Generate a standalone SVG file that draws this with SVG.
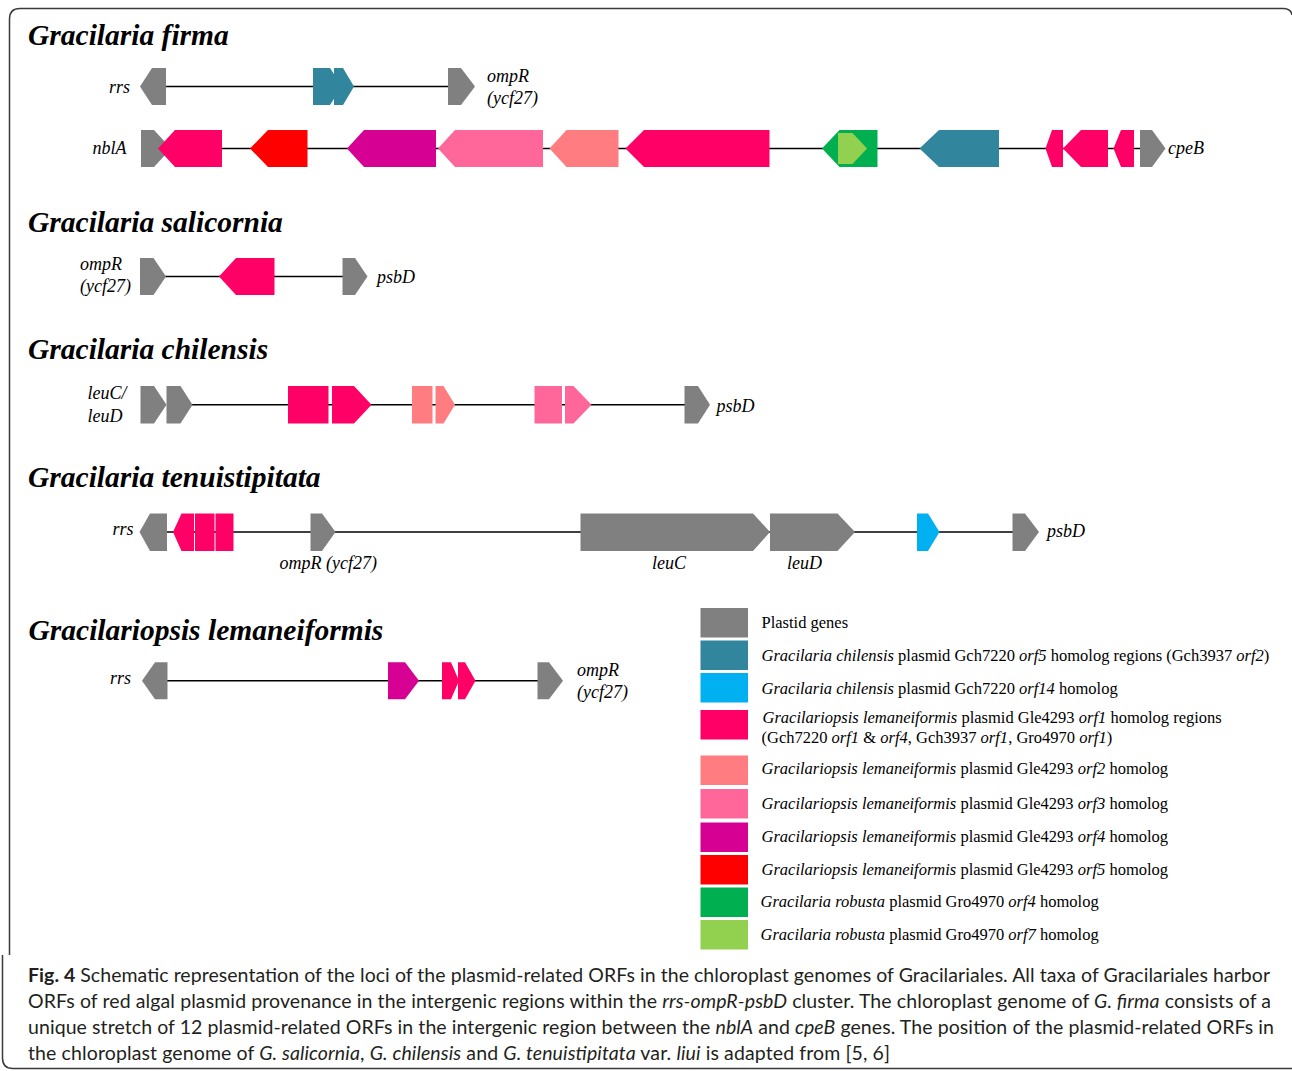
<svg xmlns="http://www.w3.org/2000/svg" width="1292" height="1071" viewBox="0 0 1292 1071">
<style>
.t{font-family:"Liberation Serif","Times New Roman",serif;font-weight:bold;font-style:italic;font-size:29.5px;fill:#000}
.g{font-family:"Liberation Serif","Times New Roman",serif;font-style:italic;font-size:18px;fill:#000}
.l{font-family:"Liberation Serif","Times New Roman",serif;font-size:16.5px;fill:#000}
.i{font-style:italic}
.c{font-family:Lato,"Liberation Sans",sans-serif;font-size:19.5px;fill:#231f20}
.b{font-weight:bold}
.ln{stroke:#000;stroke-width:1.5;fill:none}
.fr{stroke:#3a3a3a;stroke-width:1.5;fill:none}
.gy{fill:#808080}.tl{fill:#31859c}.cy{fill:#00b0f0}.pk{fill:#ff0066}.sa{fill:#ff7c80}
.lp{fill:#ff6699}.mg{fill:#d60093}.rd{fill:#ff0000}.gn{fill:#00b050}.lg{fill:#92d050}
</style>
<g id="frame">
<path class="fr" d="M1292,15 Q1291,8.5 1283,8.5 L20,8.5 Q9.5,8.5 9.5,19 L9.5,955"/>
<path class="fr" d="M2.5,955 L2.5,1058 Q2.5,1068.5 13,1068.5 L1292,1068.5"/>
</g>
<g id="titles">
<text class="t" x="28" y="45">Gracilaria firma</text>
<text class="t" x="28" y="231.5">Gracilaria salicornia</text>
<text class="t" x="28" y="359">Gracilaria chilensis</text>
<text class="t" x="28" y="487">Gracilaria tenuistipitata</text>
<text class="t" x="28.5" y="639.5">Gracilariopsis lemaneiformis</text>
</g>
<g id="connectors">
<line class="ln" x1="160" y1="86.5" x2="455" y2="86.5"/>
<line class="ln" x1="160" y1="148.5" x2="1150" y2="148.5"/>
<line class="ln" x1="150" y1="276.5" x2="350" y2="276.5"/>
<line class="ln" x1="185" y1="404.7" x2="690" y2="404.7"/>
<line class="ln" x1="160" y1="532" x2="1020" y2="532"/>
<line class="ln" x1="160" y1="680.8" x2="545" y2="680.8"/>
</g>
<g id="firma-row1">
<g id="a-rrs"><polygon class="gy" points="140,86.5 152,68 166,68 166,105 152,105"/><text class="g" x="109" y="93">rrs</text></g>
<g id="a-teal1"><polygon class="tl" points="313,68 330,68 342,86.5 330,105 313,105"/></g>
<g id="a-teal2"><polygon class="tl" points="334,68 343,68 354,86.5 343,105 334,105"/></g>
<g id="a-ompR"><polygon class="gy" points="448,68 461,68 475,86.5 461,105 448,105"/><text class="g" x="487" y="82">ompR</text><text class="g" x="487" y="104">(ycf27)</text></g>
</g>
<g id="firma-row2">
<g id="b-nblA"><polygon class="gy" points="141,130 154,130 171,148.5 154,167 141,167"/><text class="g" x="92.5" y="154">nblA</text></g>
<g id="b-1"><polygon class="pk" points="158,148.5 175,130 222,130 222,167 175,167"/></g>
<g id="b-2"><polygon class="rd" points="250,148.5 268,130 307.5,130 307.5,167 268,167"/></g>
<g id="b-3"><polygon class="mg" points="347,148.5 364,130 436,130 436,167 364,167"/></g>
<g id="b-4"><polygon class="lp" points="438,148.5 455,130 543,130 543,167 455,167"/></g>
<g id="b-5"><polygon class="sa" points="549.5,148.5 566.5,130 618.5,130 618.5,167 566.5,167"/></g>
<g id="b-6"><polygon class="pk" points="625.5,148.5 644,130 769.5,130 769.5,167 644,167"/></g>
<g id="b-7"><polygon class="gn" points="822,148.5 839.5,130 877.5,130 877.5,167 839.5,167"/><polygon class="lg" points="838,133 852.5,133 867,148.5 852.5,164 838,164"/></g>
<g id="b-8"><polygon class="tl" points="919.5,148.5 939,130 999,130 999,167 939,167"/></g>
<g id="b-9"><polygon class="pk" points="1045.5,148.5 1052,130 1063,130 1063,167 1052,167"/></g>
<g id="b-10"><polygon class="pk" points="1063,148.5 1081,130 1108,130 1108,167 1081,167"/></g>
<g id="b-11"><polygon class="pk" points="1113.5,148.5 1121,130 1134,130 1134,167 1121,167"/></g>
<g id="b-cpeB"><polygon class="gy" points="1140,130 1152,130 1165.5,148.5 1152,167 1140,167"/><text class="g" x="1168" y="154">cpeB</text></g>
</g>
<g id="salicornia">
<g id="c-ompR"><polygon class="gy" points="140,258 153.5,258 166,276.5 153.5,295 140,295"/><text class="g" x="80" y="270">ompR</text><text class="g" x="80" y="292">(ycf27)</text></g>
<g id="c-1"><polygon class="pk" points="219,276.5 236,258 274.5,258 274.5,295 236,295"/></g>
<g id="c-psbD"><polygon class="gy" points="342.5,258 355,258 367.5,276.5 355,295 342.5,295"/><text class="g" x="377" y="283">psbD</text></g>
</g>
<g id="chilensis">
<g id="d-leuC"><polygon class="gy" points="140.5,386 154,386 166.5,404.7 154,423.5 140.5,423.5"/><text class="g" x="87.5" y="399">leuC/</text><text class="g" x="87.5" y="421.5">leuD</text></g>
<g id="d-leuD"><polygon class="gy" points="166.5,386 180.5,386 192.5,404.7 180.5,423.5 166.5,423.5"/></g>
<g id="d-1"><rect class="pk" x="288" y="386" width="40.5" height="37.5"/></g>
<g id="d-2"><polygon class="pk" points="332,386 354,386 371.5,404.7 354,423.5 332,423.5"/></g>
<g id="d-3"><rect class="sa" x="412" y="386" width="20.5" height="37.5"/></g>
<g id="d-4"><polygon class="sa" points="435.5,386 443.5,386 455,404.7 443.5,423.5 435.5,423.5"/></g>
<g id="d-5"><rect class="lp" x="534.5" y="386" width="27.5" height="37.5"/></g>
<g id="d-6"><polygon class="lp" points="565,386 573.5,386 591.5,404.7 573.5,423.5 565,423.5"/></g>
<g id="d-psbD"><polygon class="gy" points="684.5,386 698,386 710,404.7 698,423.5 684.5,423.5"/><text class="g" x="716.5" y="411.5">psbD</text></g>
</g>
<g id="tenuistipitata">
<g id="e-rrs"><polygon class="gy" points="139.5,532 150,513.5 167,513.5 167,551 150,551"/><text class="g" x="112.5" y="535">rrs</text></g>
<g id="e-1"><polygon class="pk" points="173,532 181.5,513.5 194,513.5 194,551 181.5,551"/></g>
<g id="e-2"><rect class="pk" x="195" y="513.5" width="19.5" height="37.5"/></g>
<g id="e-3"><rect class="pk" x="215.5" y="513.5" width="18" height="37.5"/></g>
<g id="e-ompR"><polygon class="gy" points="310.5,513.5 322,513.5 335.5,532 322,551 310.5,551"/><text class="g" x="279.5" y="569">ompR (ycf27)</text></g>
<g id="e-leuC"><polygon class="gy" points="580.5,513.5 753,513.5 770,532 753,551 580.5,551"/><text class="g" x="652" y="569">leuC</text></g>
<g id="e-leuD"><polygon class="gy" points="770,513.5 837.5,513.5 855,532 837.5,551 770,551"/><text class="g" x="787" y="569">leuD</text></g>
<g id="e-4"><polygon class="cy" points="917,513.5 928,513.5 939.5,532 928,551 917,551"/></g>
<g id="e-psbD"><polygon class="gy" points="1012.5,513.5 1025,513.5 1039,532 1025,551 1012.5,551"/><text class="g" x="1047" y="537">psbD</text></g>
</g>
<g id="lemaneiformis">
<g id="f-rrs"><polygon class="gy" points="142,680.8 155,662.3 167.5,662.3 167.5,699.3 155,699.3"/><text class="g" x="110" y="684">rrs</text></g>
<g id="f-1"><polygon class="mg" points="388,662.3 405,662.3 419,680.8 405,699.3 388,699.3"/></g>
<g id="f-2"><polygon class="pk" points="442,662.3 451,662.3 459,680.8 451,699.3 442,699.3"/></g>
<g id="f-3"><polygon class="pk" points="458,662.3 465,662.3 475.5,680.8 465,699.3 458,699.3"/></g>
<g id="f-ompR"><polygon class="gy" points="537.5,662.3 549,662.3 563,680.8 549,699.3 537.5,699.3"/><text class="g" x="577" y="676">ompR</text><text class="g" x="577" y="698">(ycf27)</text></g>
</g>
<g id="legend">
<rect class="gy" x="700.5" y="608" width="47.5" height="29.5"/>
<rect class="tl" x="700.5" y="640.5" width="47.5" height="29.5"/>
<rect class="cy" x="700.5" y="673" width="47.5" height="29.5"/>
<rect class="pk" x="700.5" y="710" width="47.5" height="29.5"/>
<rect class="sa" x="700.5" y="755.5" width="47.5" height="29.5"/>
<rect class="lp" x="700.5" y="789" width="47.5" height="29.5"/>
<rect class="mg" x="700.5" y="822.5" width="47.5" height="29.5"/>
<rect class="rd" x="700.5" y="855" width="47.5" height="29.5"/>
<rect class="gn" x="700.5" y="887.5" width="47.5" height="29.5"/>
<rect class="lg" x="700.5" y="920" width="47.5" height="29.5"/>
<text class="l" x="761.5" y="627.5">Plastid genes</text>
<text class="l" x="761.5" y="660.5"><tspan class="i">Gracilaria chilensis</tspan> plasmid Gch7220 <tspan class="i">orf5</tspan> homolog regions (Gch3937 <tspan class="i">orf2</tspan>)</text>
<text class="l" x="761.5" y="693.5"><tspan class="i">Gracilaria chilensis</tspan> plasmid Gch7220 <tspan class="i">orf14</tspan> homolog</text>
<text class="l" x="762.5" y="722.5"><tspan class="i">Gracilariopsis lemaneiformis</tspan> plasmid Gle4293 <tspan class="i">orf1</tspan> homolog regions</text>
<text class="l" x="761.5" y="742.5">(Gch7220 <tspan class="i">orf1</tspan> &amp; <tspan class="i">orf4</tspan>, Gch3937 <tspan class="i">orf1</tspan>, Gro4970 <tspan class="i">orf1</tspan>)</text>
<text class="l" x="761.5" y="774"><tspan class="i">Gracilariopsis lemaneiformis</tspan> plasmid Gle4293 <tspan class="i">orf2</tspan> homolog</text>
<text class="l" x="761.5" y="809"><tspan class="i">Gracilariopsis lemaneiformis</tspan> plasmid Gle4293 <tspan class="i">orf3</tspan> homolog</text>
<text class="l" x="761.5" y="841.5"><tspan class="i">Gracilariopsis lemaneiformis</tspan> plasmid Gle4293 <tspan class="i">orf4</tspan> homolog</text>
<text class="l" x="761.5" y="874.5"><tspan class="i">Gracilariopsis lemaneiformis</tspan> plasmid Gle4293 <tspan class="i">orf5</tspan> homolog</text>
<text class="l" x="760.5" y="906.5"><tspan class="i">Gracilaria robusta</tspan> plasmid Gro4970 <tspan class="i">orf4</tspan> homolog</text>
<text class="l" x="760.5" y="940"><tspan class="i">Gracilaria robusta</tspan> plasmid Gro4970 <tspan class="i">orf7</tspan> homolog</text>
</g>
<g id="caption">
<text class="c" x="28" y="982" textLength="1242" lengthAdjust="spacing"><tspan class="b">Fig. 4</tspan> Schematic representation of the loci of the plasmid-related ORFs in the chloroplast genomes of Gracilariales. All taxa of Gracilariales harbor</text>
<text class="c" x="28" y="1008" textLength="1243" lengthAdjust="spacing">ORFs of red algal plasmid provenance in the intergenic regions within the <tspan class="i">rrs-ompR-psbD</tspan> cluster. The chloroplast genome of <tspan class="i">G. firma</tspan> consists of a</text>
<text class="c" x="28" y="1034" textLength="1246" lengthAdjust="spacing">unique stretch of 12 plasmid-related ORFs in the intergenic region between the <tspan class="i">nblA</tspan> and <tspan class="i">cpeB</tspan> genes. The position of the plasmid-related ORFs in</text>
<text class="c" x="28" y="1060" textLength="862" lengthAdjust="spacing">the chloroplast genome of <tspan class="i">G. salicornia</tspan>, <tspan class="i">G. chilensis</tspan> and <tspan class="i">G. tenuistipitata</tspan> var. <tspan class="i">liui</tspan> is adapted from [5, 6]</text>
</g>
</svg>
